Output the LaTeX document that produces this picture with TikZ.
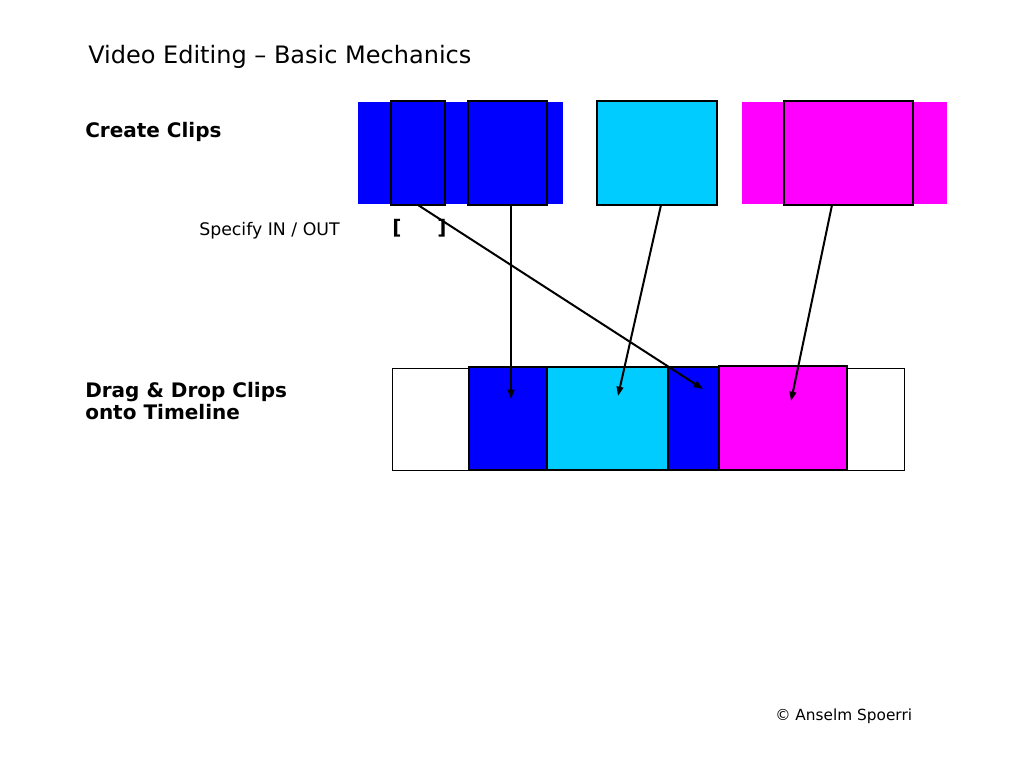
\documentclass[tikz,border=0pt]{standalone}
\usepackage{fontspec}
\setmainfont{DejaVu Sans}
\usetikzlibrary{arrows.meta}
\definecolor{clipblue}{RGB}{0,0,255}
\definecolor{clipcyan}{RGB}{0,204,255}
\definecolor{clipmag}{RGB}{255,0,255}
\begin{document}
\begin{tikzpicture}[x=0.75pt,y=-0.75pt,
  clipbox/.style={draw=black,line width=2.2pt},
  arr/.style={draw=black,line width=1.5pt,-{Triangle[length=7pt,width=5pt]}},
  lab/.style={anchor=west,inner sep=0pt}]
\useasboundingbox (0,0) rectangle (1024,768);
\node[lab,font=\fontsize{18}{20}\selectfont] (title) at (88,57) {Video Editing – Basic Mechanics};
\node[lab,font=\fontsize{15}{17}\selectfont\bfseries] (cc1) at (85,132) {Create Clips};
\node[lab,font=\fontsize{13}{15}\selectfont] (spec) at (199,231) {Specify IN / OUT};
\node[lab,font=\fontsize{15}{17}\selectfont\bfseries] (lb) at (392,228) {[};
\node[lab,font=\fontsize{15}{17}\selectfont\bfseries] (rb) at (437,228) {]};
\node[lab,font=\fontsize{15}{17}\selectfont\bfseries,align=left] (dd) at (85,401) {Drag \& Drop Clips\\onto Timeline};
\node[lab,font=\fontsize{11.5}{13}\selectfont] (cr) at (775,716) {© Anselm Spoerri};
% top clips
\fill[clipblue] (358,102) rectangle (563,204);
\draw[clipbox] (391,101) rectangle (445,205);
\draw[clipbox] (468,101) rectangle (547,205);
\draw[clipbox,fill=clipcyan] (597,101) rectangle (717,205);
\fill[clipmag] (742,102) rectangle (947,204);
\draw[clipbox] (784,101) rectangle (913,205);
% timeline
\draw[line width=0.6pt] (392,368) rectangle (904,470);
\draw[clipbox,fill=clipblue] (469,367) rectangle (547,470);
\draw[clipbox,fill=clipcyan] (547,367) rectangle (668,470);
\draw[clipbox,fill=clipblue] (668,367) rectangle (719,470);
\draw[clipbox,fill=clipmag] (719,366) rectangle (847,470);
% arrows
\coordinate (a1s) at (511,205); \coordinate (a1e) at (511,399);
\coordinate (a2s) at (661,205); \coordinate (a2e) at (618,396);
\coordinate (a3s) at (832,205); \coordinate (a3e) at (791,401);
\coordinate (a4s) at (418,205); \coordinate (a4e) at (703,389);
\draw[arr] (a1s) -- (a1e);
\draw[arr] (a2s) -- (a2e);
\draw[arr] (a3s) -- (a3e);
\draw[arr] (a4s) -- (a4e);
\end{tikzpicture}
\end{document}
